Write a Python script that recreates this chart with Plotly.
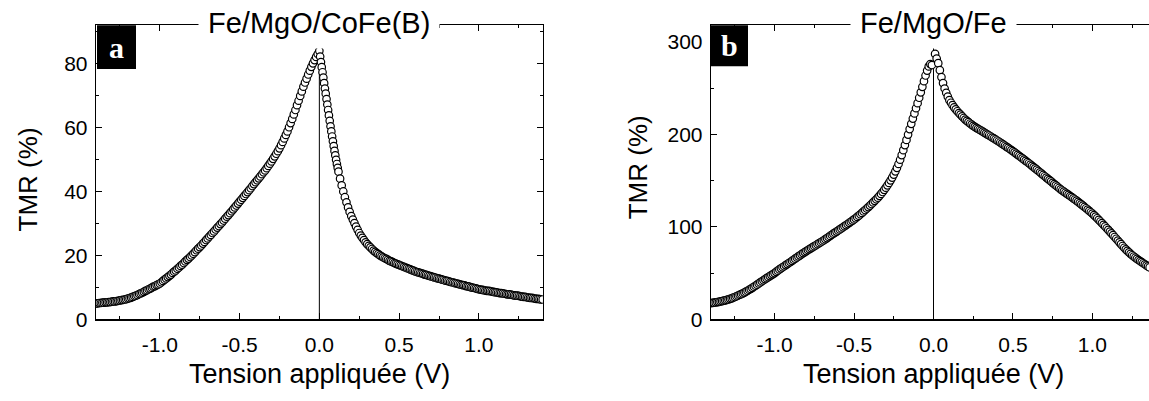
import numpy as np
import plotly.graph_objects as go

W, H = 1149, 401
FONT = "Liberation Sans, Arial, sans-serif"
SERIF = "Liberation Serif, Times New Roman, serif"

# ---------------- data ----------------
# Panel a : Fe/MgO/CoFe(B), TMR (%) vs applied bias (V)
VA_NEG_START, VA_NEG_STEP = -1.40, 0.01
tmr_a_neg = [
    5.0, 5.0, 5.1, 5.1, 5.2, 5.2, 5.3, 5.3, 5.4, 5.4,
    5.5, 5.6, 5.6, 5.7, 5.8, 5.9, 6.0, 6.1, 6.2, 6.3,
    6.5, 6.6, 6.8, 7.0, 7.2, 7.4, 7.6, 7.9, 8.1, 8.3,
    8.6, 8.9, 9.1, 9.4, 9.6, 9.9, 10.2, 10.4, 10.7, 10.9,
    11.2, 11.6, 12.0, 12.4, 12.8, 13.2, 13.6, 14.0, 14.5, 14.9,
    15.3, 15.8, 16.2, 16.7, 17.1, 17.6, 18.1, 18.6, 19.0, 19.5,
    20.0, 20.5, 21.0, 21.6, 22.1, 22.6, 23.1, 23.7, 24.2, 24.8,
    25.3, 25.9, 26.4, 27.0, 27.5, 28.1, 28.7, 29.2, 29.8, 30.3,
    30.9, 31.5, 32.1, 32.6, 33.2, 33.8, 34.4, 35.0, 35.6, 36.2,
    36.8, 37.4, 38.0, 38.6, 39.2, 39.8, 40.4, 41.0, 41.7, 42.3,
    42.9, 43.5, 44.1, 44.7, 45.4, 46.0, 46.6, 47.3, 48.0, 48.7,
    49.4, 50.2, 51.0, 51.8, 52.6, 53.5, 54.5, 55.5, 56.6, 57.7,
    58.8, 60.1, 61.4, 62.7, 64.1, 65.5, 67.0, 68.4, 69.9, 71.3,
    72.8, 74.1, 75.3, 76.6, 77.8, 79.0, 80.1, 81.1, 82.1, 83.0,
    84.0,
]
VA_FINE_START, VA_FINE_STEP = 0.005, 0.005
tmr_a_pos_fine = [
    82.2, 80.5, 78.9, 77.3, 75.6, 73.9, 72.2, 70.6, 68.9, 67.2,
    65.5, 63.8, 62.1, 60.4, 58.8, 57.2, 55.7, 54.2, 52.7, 51.3,
    49.9, 48.6, 47.4, 46.2,
]
VA_POS_START, VA_POS_STEP = 0.13, 0.01
tmr_a_pos = [
    44.0, 41.9, 40.0, 38.2, 36.6, 35.0, 33.6, 32.3,
    31.2, 30.1, 29.0, 28.0, 27.0, 26.2, 25.5, 24.8, 24.1, 23.5,
    23.0, 22.5, 22.0, 21.5, 21.1, 20.7, 20.4, 20.0, 19.7, 19.4,
    19.1, 18.9, 18.6, 18.3, 18.1, 17.9, 17.6, 17.4, 17.2, 17.0,
    16.8, 16.6, 16.4, 16.2, 16.0, 15.8, 15.6, 15.4, 15.2, 15.0,
    14.8, 14.7, 14.5, 14.4, 14.2, 14.0, 13.9, 13.7, 13.6, 13.4,
    13.3, 13.1, 13.0, 12.8, 12.7, 12.6, 12.4, 12.3, 12.1, 12.0,
    11.9, 11.7, 11.6, 11.5, 11.3, 11.2, 11.1, 10.9, 10.8, 10.7,
    10.6, 10.4, 10.3, 10.2, 10.0, 9.9, 9.8, 9.7, 9.5, 9.4,
    9.3, 9.2, 9.1, 9.0, 8.9, 8.9, 8.8, 8.7, 8.6, 8.5,
    8.4, 8.3, 8.2, 8.2, 8.1, 8.0, 7.9, 7.8, 7.8, 7.7,
    7.6, 7.5, 7.4, 7.4, 7.3, 7.2, 7.1, 7.0, 7.0, 6.9,
    6.8, 6.7, 6.7, 6.6, 6.5, 6.4, 6.4, 6.3, 6.2, 6.2,
]

# Panel b : Fe/MgO/Fe
VB_NEG_START, VB_NEG_STEP = -1.40, 0.01
tmr_b_neg = [
    17.6, 17.8, 18.0, 18.3, 18.6, 18.9, 19.3, 19.7, 20.1, 20.5,
    21.0, 21.5, 22.1, 22.7, 23.4, 24.1, 24.9, 25.7, 26.5, 27.2,
    28.0, 28.9, 29.9, 30.9, 31.9, 32.9, 34.0, 35.2, 36.3, 37.5,
    38.7, 39.9, 41.1, 42.2, 43.4, 44.5, 45.6, 46.7, 47.8, 48.9,
    50.0, 51.3, 52.6, 53.9, 55.1, 56.3, 57.4, 58.6, 59.7, 60.9,
    62.0, 63.2, 64.4, 65.6, 66.8, 68.0, 69.2, 70.4, 71.6, 72.7,
    73.8, 74.9, 75.9, 77.0, 78.0, 79.1, 80.1, 81.2, 82.3, 83.3,
    84.4, 85.5, 86.7, 87.8, 89.0, 90.2, 91.4, 92.6, 93.7, 94.9,
    96.0, 97.2, 98.3, 99.5, 100.7, 101.9, 103.1, 104.3, 105.5, 106.8,
    108.0, 109.3, 110.7, 112.1, 113.6, 115.1, 116.7, 118.2, 119.8, 121.4,
    123.0, 124.7, 126.4, 128.1, 129.8, 131.6, 133.5, 135.6, 137.7, 140.0,
    142.4, 144.9, 147.5, 150.3, 153.3, 156.5, 160.0, 163.8, 168.0, 172.6,
    177.6, 182.9, 188.4, 194.0, 199.8, 205.7, 211.4, 217.1, 222.7, 228.3,
    233.8, 239.6, 245.5, 251.4, 257.6, 263.7, 269.0, 273.5, 276.0, 275.0,
]
VB_POS_START, VB_POS_STEP = 0.01, 0.01
tmr_b_pos = [
    287.0, 282.0, 277.0, 269.5, 262.0, 255.5, 249.6, 245.0, 240.8, 237.0,
    234.2, 231.6, 229.2, 227.0, 225.0, 223.1, 221.3, 219.5, 217.7, 216.0,
    214.6, 213.2, 211.8, 210.5, 209.2, 208.1, 207.1, 206.0, 205.0, 204.0,
    203.0, 201.9, 200.9, 199.8, 198.8, 197.7, 196.6, 195.6, 194.5, 193.4,
    192.3, 191.2, 190.0, 188.9, 187.7, 186.5, 185.4, 184.2, 183.0, 181.8,
    180.5, 179.2, 177.9, 176.6, 175.3, 174.0, 172.7, 171.4, 170.1, 168.8,
    167.4, 166.0, 164.6, 163.2, 161.8, 160.4, 159.0, 157.6, 156.1, 154.7,
    153.3, 151.9, 150.5, 149.1, 147.6, 146.2, 144.8, 143.4, 142.0, 140.6,
    139.3, 138.1, 136.9, 135.7, 134.5, 133.3, 132.1, 130.8, 129.6, 128.3,
    127.0, 125.7, 124.3, 122.9, 121.5, 120.1, 118.7, 117.2, 115.8, 114.3,
    112.7, 111.0, 109.3, 107.5, 105.8, 104.0, 102.2, 100.4, 98.5, 96.7,
    94.8, 92.9, 91.0, 89.0, 87.1, 85.2, 83.2, 81.3, 79.3, 77.4,
    75.7, 74.0, 72.4, 70.8, 69.3, 67.9, 66.6, 65.3, 64.1, 63.0,
    61.8, 60.6, 59.5, 58.3, 57.2, 56.1,
]

titles = ["Fe/MgO/CoFe(B)", "Fe/MgO/Fe"]
panel_letters = ["a", "b"]
x_title = "Tension appliquée (V)"
y_title = "TMR (%)"
x_tickvals = [-1.0, -0.5, 0.0, 0.5, 1.0]
x_ticktext = ["-1.0", "-0.5", "0.0", "0.5", "1.0"]


def sweep(start, step, values):
    return np.round(start + step * np.arange(len(values)), 4)


xa = np.concatenate([sweep(VA_NEG_START, VA_NEG_STEP, tmr_a_neg),
                     sweep(VA_FINE_START, VA_FINE_STEP, tmr_a_pos_fine),
                     sweep(VA_POS_START, VA_POS_STEP, tmr_a_pos)])
ya = np.array(tmr_a_neg + tmr_a_pos_fine + tmr_a_pos)
xb = np.concatenate([sweep(VB_NEG_START, VB_NEG_STEP, tmr_b_neg),
                     sweep(VB_POS_START, VB_POS_STEP, tmr_b_pos)])
yb = np.array(tmr_b_neg + tmr_b_pos)


def fx(p):
    return p / W


def fy(p):
    return 1 - p / H


marker = dict(symbol="circle", size=7.5, color="white",
              line=dict(color="black", width=1.2))

fig = go.Figure()
fig.add_trace(go.Scatter(x=xa, y=ya, mode="markers", marker=marker,
                         xaxis="x", yaxis="y", showlegend=False, hoverinfo="skip"))
fig.add_trace(go.Scatter(x=xb, y=yb, mode="markers", marker=marker,
                         xaxis="x2", yaxis="y2", showlegend=False, hoverinfo="skip"))


def axis(minor_dtick, **kw):
    d = dict(showline=True, linecolor="black", linewidth=1.3,
             ticks="inside", ticklen=6, tickwidth=1, tickcolor="black",
             showgrid=False, zeroline=False,
             tickfont=dict(family=FONT, size=21, color="black"),
             minor=dict(ticks="inside", ticklen=3, tickwidth=1,
                        tickcolor="black", dtick=minor_dtick, tick0=0,
                        showgrid=False))
    d.update(kw)
    return d


YDOM = [fy(328.3), fy(26)]
XT = dict(tickmode="array", tickvals=x_tickvals, ticktext=x_ticktext)
fig.update_layout(
    width=W, height=H,
    margin=dict(l=0, r=0, t=0, b=0),
    paper_bgcolor="white", plot_bgcolor="white",
    xaxis=axis(0.25, domain=[fx(96), fx(542.7)], range=[-1.4, 1.4],
               mirror="ticks", anchor="y", ticklabelstandoff=6, **XT),
    yaxis=axis(10, dtick=20, tick0=0, domain=YDOM, range=[0, 92], mirror="ticks",
               anchor="x", ticklabelstandoff=3),
    xaxis2=axis(0.25, domain=[fx(711), 1.0], range=[-1.4, 1.356],
                mirror="ticks", anchor="y2", ticklabelstandoff=6, **XT),
    yaxis2=axis(50, dtick=100, tick0=0, domain=YDOM, range=[0, 318], mirror=False,
                anchor="x2", ticklabelstandoff=3),
)

shapes = []
annotations = []
for xr in ["x", "x2"]:
    shapes.append(dict(type="line", xref=xr, yref="y domain" if xr == "x" else "y2 domain",
                       x0=0, x1=0, y0=0, y1=1, layer="below",
                       line=dict(color="black", width=1)))

# panel letter boxes
boxes = [(97, 136, 26, 71), (711, 748, 26, 68)]
for (x0, x1, y0, y1), letter in zip(boxes, panel_letters):
    shapes.append(dict(type="rect", xref="paper", yref="paper",
                       x0=fx(x0), x1=fx(x1), y0=fy(y1), y1=fy(y0),
                       fillcolor="black", line=dict(width=0), layer="above"))
    annotations.append(dict(text="<b>%s</b>" % letter, xref="paper", yref="paper",
                            x=fx((x0 + x1) / 2), y=fy((y0 + y1) / 2),
                            xanchor="center", yanchor="middle", showarrow=False,
                            font=dict(family=SERIF, size=30, color="white")))

# panel titles sitting on the top frame
for xr, t in zip(["x", "x2"], titles):
    annotations.append(dict(text=t, xref=xr, yref="paper", x=0, y=fy(24),
                            xanchor="center", yanchor="middle", showarrow=False,
                            bgcolor="white", borderpad=9,
                            font=dict(family=FONT, size=29, color="black")))

# axis titles
for xr in ["x", "x2"]:
    annotations.append(dict(text=x_title, xref=xr, yref="paper", x=0, y=fy(385),
                            xanchor="center", yanchor="middle", showarrow=False,
                            font=dict(family=FONT, size=27, color="black")))
for xc, yc in [(27.5, 185), (638, 172)]:
    annotations.append(dict(text=y_title, xref="paper", yref="paper",
                            x=fx(xc), y=fy(yc), xanchor="center", yanchor="middle",
                            textangle=-90, showarrow=False,
                            font=dict(family=FONT, size=26, color="black")))

fig.update_layout(shapes=shapes, annotations=annotations)
fig.write_html("out.html",
               config={"displayModeBar": False, "staticPlot": True},
               post_script="document.body.style.margin='0';"
                           "document.body.style.overflow='hidden';")
